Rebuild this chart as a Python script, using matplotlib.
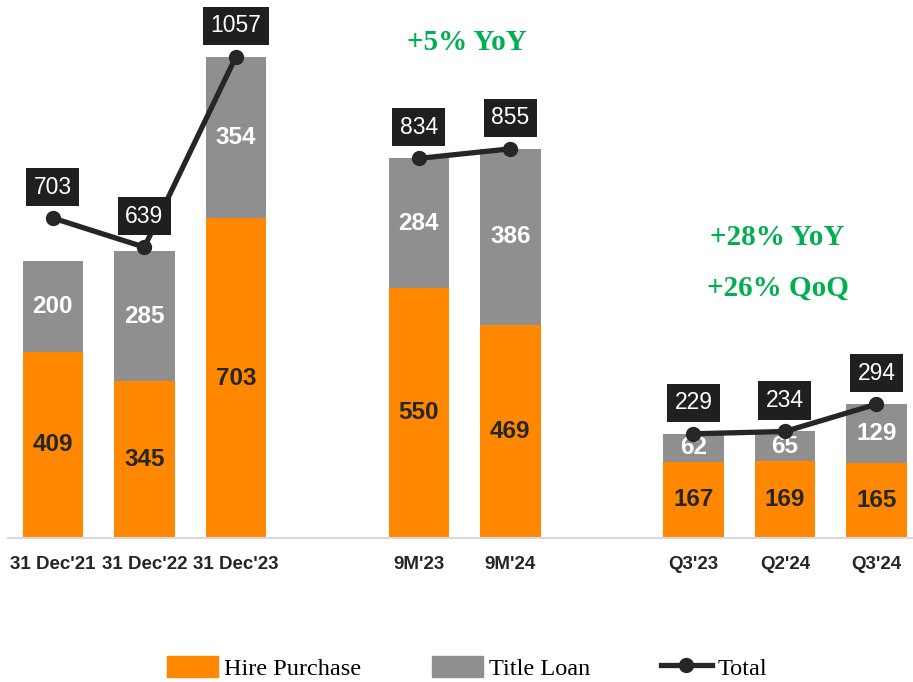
import matplotlib
matplotlib.use('Agg')
import matplotlib.pyplot as plt
from matplotlib.patches import Patch
from matplotlib.lines import Line2D

# datos
labels = ["31 Dec'21", "31 Dec'22", "31 Dec'23", "9M'23", "9M'24", "Q3'23", "Q2'24", "Q3'24"]
positions = [0, 1, 2, 4, 5, 7, 8, 9]
hire_purchase = [409, 345, 703, 550, 469, 167, 169, 165]
title_loan = [200, 285, 354, 284, 386, 62, 65, 129]
total = [703, 639, 1057, 834, 855, 229, 234, 294]
groups = [(0, 3), (3, 5), (5, 8)]

ORANGE = '#FF8800'
GRAY = '#8F8F8F'
DARK = '#262626'
GREEN = '#00B050'

plt.rcParams['font.family'] = ['Liberation Sans', 'DejaVu Sans']

fig = plt.figure(figsize=(9.13, 6.82), dpi=100)
ax = fig.add_axes([8 / 913, 1 - 538 / 682, 905 / 913, 538 / 682])

ax.bar(positions, hire_purchase, width=0.66, color=ORANGE)
ax.bar(positions, title_loan, width=0.66, bottom=hire_purchase, color=GRAY)

for x, hp, tl in zip(positions, hire_purchase, title_loan):
    ax.text(x, hp / 2, str(hp), ha='center', va='center', fontsize=17.5,
            fontweight='bold', color=DARK)
    ax.text(x, hp + tl / 2, str(tl), ha='center', va='center', fontsize=17.5,
            fontweight='bold', color='white')

# linea del total, un tramo por grupo
for a, b in groups:
    ax.plot(positions[a:b], total[a:b], color=DARK, linewidth=3.8,
            marker='o', markersize=10, zorder=3)

for x, t in zip(positions, total):
    ax.annotate(str(t), (x, t), xytext=(0, 31), textcoords='offset pixels',
                ha='center', va='center', fontsize=16.5, color='white',
                bbox=dict(boxstyle='square,pad=0.33', fc='#1F1F1F', ec='none'),
                zorder=4)

serif_bold = dict(ha='center', va='center', fontsize=21, fontweight='bold',
                  color=GREEN, family='Liberation Serif')
ax.text(4.52, 1088, '+5% YoY', **serif_bold)
ax.text(7.92, 660, '+28% YoY', **serif_bold)
ax.text(7.92, 548, '+26% QoQ', **serif_bold)

ax.set_xlim(-0.49, 9.4)
ax.set_ylim(0, 1182)
ax.set_xticks(positions)
ax.set_xticklabels(labels, fontsize=13.5, fontweight='bold', color=DARK)
ax.tick_params(axis='x', length=0, pad=13)
ax.set_yticks([])
for s in ['top', 'right', 'left']:
    ax.spines[s].set_visible(False)
ax.spines['bottom'].set_color('#D9D9D9')
ax.spines['bottom'].set_linewidth(1.5)

handles = [Patch(color=ORANGE), Patch(color=GRAY),
           Line2D([], [], color=DARK, linewidth=3.8, marker='o', markersize=10)]
fig.legend(handles, ['Hire Purchase', 'Title Loan', 'Total'], loc='center',
           bbox_to_anchor=(0.512, 0.021), ncol=3, frameon=False,
           prop={'family': 'Liberation Serif', 'size': 17.5},
           handlelength=2.1, handleheight=0.95, handletextpad=0.25,
           columnspacing=2.9)

fig.savefig('out.png', dpi=100)
